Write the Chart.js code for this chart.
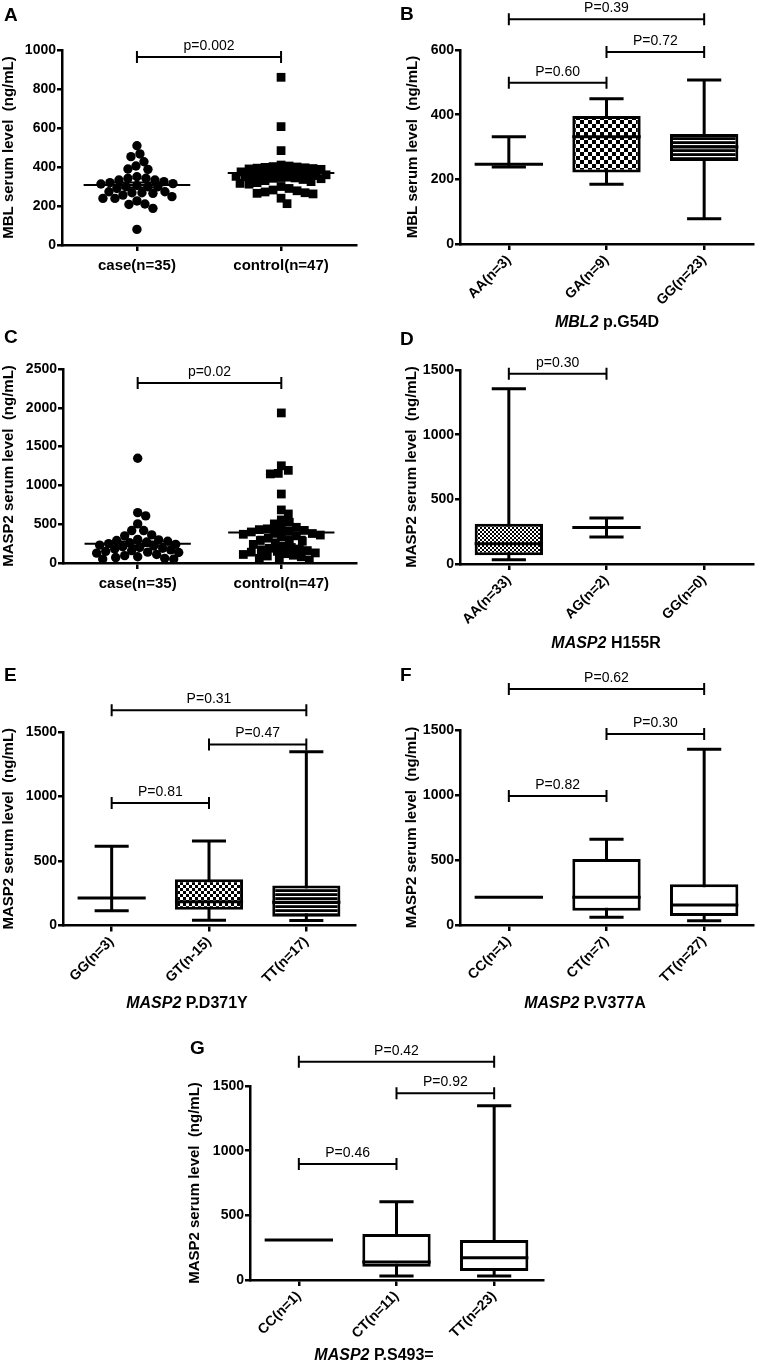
<!DOCTYPE html>
<html>
<head>
<meta charset="utf-8">
<script src="https://cdn.jsdelivr.net/npm/chart.js@4.4.1/dist/chart.umd.min.js"></script>
<style>
body { margin: 0; background: #fff; }
#page { position: relative; width: 758px; height: 1365px; overflow: hidden; font-family: "Liberation Sans", Arial, Helvetica, sans-serif; color: #000; }
canvas { position: absolute; }
.lbl { position: absolute; font-weight: bold; font-size: 19px; line-height: 19px; }
.xt { position: absolute; font-weight: bold; font-size: 16px; line-height: 16px; white-space: nowrap; transform: translate(-50%, -50%); }
</style>
</head>
<body>
<div id="page">
<canvas id="cA" width="375" height="290" style="left:0px;top:0px"></canvas>
<canvas id="cB" width="378" height="335" style="left:380px;top:0px"></canvas>
<canvas id="cC" width="375" height="300" style="left:0px;top:300px"></canvas>
<canvas id="cD" width="378" height="300" style="left:380px;top:335px"></canvas>
<canvas id="cE" width="375" height="340" style="left:0px;top:660px"></canvas>
<canvas id="cF" width="378" height="340" style="left:380px;top:660px"></canvas>
<canvas id="cG" width="380" height="325" style="left:180px;top:1040px"></canvas>

<div class="lbl" style="left:4px;top:5px">A</div>
<div class="lbl" style="left:400px;top:4px">B</div>
<div class="lbl" style="left:4px;top:327px">C</div>
<div class="lbl" style="left:400px;top:329px">D</div>
<div class="lbl" style="left:4px;top:665px">E</div>
<div class="lbl" style="left:400px;top:665px">F</div>
<div class="lbl" style="left:190px;top:1038px">G</div>

<div class="xt" style="left:607px;top:322px"><i>MBL2</i> p.G54D</div>
<div class="xt" style="left:606px;top:643px"><i>MASP2</i> H155R</div>
<div class="xt" style="left:187px;top:1003px"><i>MASP2</i> P.D371Y</div>
<div class="xt" style="left:585px;top:1003px"><i>MASP2</i> P.V377A</div>
<div class="xt" style="left:374px;top:1355px"><i>MASP2</i> P.S493=</div>
</div>

<script>
// ---- data ----
const groups = ['case(n=35)', 'control(n=47)'];

// A: MBL serum level (ng/mL)
const mblCase = [509, 467, 453, 427, 405, 388, 390, 350, 342, 333, 342, 333, 325, 320, 313,
  299, 299, 299, 305, 290, 273, 268, 265, 268, 273, 256, 239, 239, 248, 226, 208, 210, 188, 80, 315];
const mblControl = [860, 607, 484, 410, 405, 402, 400, 398, 396, 394, 392, 390, 388, 375, 372,
  370, 368, 366, 364, 362, 360, 358, 356, 354, 352, 350, 348, 346, 344, 342, 340, 336, 330, 325,
  320, 316, 312, 300, 290, 282, 278, 272, 268, 265, 262, 240, 212];
const mblMean = [308, 369];
const mblSem = [13, 15];

// C: MASP2 serum level (ng/mL)
const maspCase = [1350, 649, 607, 504, 418, 418, 362, 350, 305, 298, 290, 280, 270, 260, 250,
  240, 230, 220, 210, 200, 190, 180, 170, 160, 150, 140, 135, 127, 110, 95, 80, 70, 60, 50, 50];
const maspControl = [1934, 1253, 1194, 1155, 1148, 889, 684, 632, 555, 525, 504, 460, 450, 440,
  430, 420, 410, 400, 390, 380, 370, 360, 350, 340, 320, 300, 290, 280, 260, 240, 220, 200, 190,
  180, 170, 160, 150, 140, 130, 120, 110, 100, 90, 80, 60, 50, 40];
const maspMean = [247, 392];
const maspSem = [29, 54];

// B: MBL2 p.G54D
const labelsB = ['AA(n=3)', 'GA(n=9)', 'GG(n=23)'];
const minB = [238, 185, 78];
const q1B = [247, 221, 257];
const medB = [247, 332, 300];
const q3B = [247, 396, 340];
const maxB = [332, 449, 507];

// D: MASP2 H155R
const labelsD = ['AA(n=33)', 'AG(n=2)', 'GG(n=0)'];
const minD = [33, 208, null];
const q1D = [67, 283, null];
const medD = [157, 283, null];
const q3D = [311, 283, null];
const maxD = [1355, 355, null];

// E: MASP2 P.D371Y
const labelsE = ['GG(n=3)', 'GT(n-15)', 'TT(n=17)'];
const minE = [115, 41, 39];
const q1E = [213, 123, 67];
const medE = [213, 185, 180];
const q3E = [213, 359, 310];
const maxE = [615, 656, 1346];

// F: MASP2 P.V377A
const labelsF = ['CC(n=1)', 'CT(n=7)', 'TT(n=27)'];
const minF = [213, 59, 33];
const q1F = [213, 110, 69];
const medF = [213, 213, 154];
const q3F = [213, 508, 313];
const maxF = [213, 659, 1351];

// G: MASP2 P.S493=
const labelsG = ['CC(n=1)', 'CT(n=11)', 'TT(n=23)'];
const minG = [309, 31, 31];
const q1G = [309, 103, 70];
const medG = [309, 140, 172];
const q3G = [309, 355, 309];
const maxG = [309, 605, 1347];

// significance brackets: [from group, to group, level, text]
const bracketsA = [[0, 1, 964, 'p=0.002']];
const bracketsB = [[0, 2, 695, 'P=0.39'], [1, 2, 594, 'P=0.72'], [0, 1, 499, 'P=0.60']];
const bracketsC = [[0, 1, 2320, 'p=0.02']];
const bracketsD = [[0, 1, 1471, 'p=0.30']];
const bracketsE = [[0, 2, 1668, 'P=0.31'], [1, 2, 1403, 'P=0.47'], [0, 1, 950, 'P=0.81']];
const bracketsF = [[0, 2, 1815, 'P=0.62'], [1, 2, 1469, 'P=0.30'], [0, 1, 992, 'P=0.82']];
const bracketsG = [[0, 2, 1687, 'P=0.42'], [1, 2, 1443, 'P=0.92'], [0, 1, 896, 'P=0.46']];

// ---- drawing ----
const FONT = '"Liberation Sans", Arial, Helvetica, sans-serif';
Chart.defaults.font.family = FONT;
Chart.defaults.color = '#000';
Chart.defaults.animation = false;
Chart.defaults.plugins.legend.display = false;
Chart.defaults.plugins.tooltip.enabled = false;

const BAR_PCT = 0.7;
const extras = {};

function checker(size) {
    const c = document.createElement('canvas');
    c.width = c.height = size * 2;
    const g = c.getContext('2d');
    g.fillStyle = '#fff';
    g.fillRect(0, 0, size * 2, size * 2);
    g.fillStyle = '#000';
    g.fillRect(0, 0, size, size);
    g.fillRect(size, size, size, size);
    return g.createPattern(c, 'repeat');
}

function stripes(gap) {
    const c = document.createElement('canvas');
    c.width = 4;
    c.height = gap;
    const g = c.getContext('2d');
    g.fillStyle = '#000';
    g.fillRect(0, 0, 4, gap);
    g.fillStyle = '#fff';
    g.fillRect(0, 0, 4, 1.2);
    return g.createPattern(c, 'repeat');
}

// lay points side by side so they do not cover each other (too much)
function swarm(values, center, yPx, xPx, gap, maxHalf) {
    const order = values.map((v, i) => i).sort((a, b) => values[b] - values[a]);
    const placed = [];
    const out = [];
    order.forEach(i => {
        const py = values[i] * yPx;
        let best = 0, bestD = -1;
        for (let k = 0; k <= maxHalf * 2; k++) {
            const off = k === 0 ? 0 : (k % 2 ? (k + 1) / 2 : -k / 2);
            let dmin = Infinity;
            placed.forEach(p => {
                const d = Math.hypot(p[0] - off, p[1] - py);
                if (d < dmin) dmin = d;
            });
            if (dmin >= gap) { best = off; bestD = dmin; break; }
            if (dmin > bestD) { bestD = dmin; best = off; }
        }
        placed.push([best, py]);
        out.push({ x: center + best / xPx, y: values[i] });
    });
    return out;
}

const boxPlugin = {
    id: 'boxes',
    beforeDatasetsDraw(chart) {
        const ex = extras[chart.canvas.id];
        if (!ex || !ex.stats) return;
        const s = ex.stats;
        const { ctx, scales: { x, y } } = chart;
        const w = (x.getPixelForValue(1) - x.getPixelForValue(0)) * BAR_PCT;
        ctx.save();
        ctx.strokeStyle = '#000';
        ctx.lineWidth = 3;
        s.min.forEach((mn, i) => {
            if (mn == null) return;
            const cx = x.getPixelForValue(i);
            const yMin = y.getPixelForValue(mn), yMax = y.getPixelForValue(s.max[i]);
            ctx.beginPath();
            if (s.max[i] !== mn) {
                ctx.moveTo(cx, yMin); ctx.lineTo(cx, yMax);
                ctx.moveTo(cx - w / 4, yMin); ctx.lineTo(cx + w / 4, yMin);
                ctx.moveTo(cx - w / 4, yMax); ctx.lineTo(cx + w / 4, yMax);
            }
            ctx.stroke();
        });
        ctx.restore();
    },
    afterDatasetsDraw(chart) {
        const ex = extras[chart.canvas.id];
        if (!ex || !ex.stats) return;
        const s = ex.stats;
        const { ctx, scales: { x, y } } = chart;
        const w = (x.getPixelForValue(1) - x.getPixelForValue(0)) * BAR_PCT;
        ctx.save();
        ctx.strokeStyle = '#000';
        ctx.lineWidth = 3;
        s.med.forEach((m, i) => {
            if (m == null) return;
            const cx = x.getPixelForValue(i), ym = y.getPixelForValue(m);
            ctx.beginPath();
            ctx.moveTo(cx - w / 2, ym); ctx.lineTo(cx + w / 2, ym);
            ctx.stroke();
        });
        ctx.restore();
    }
};

const meanPlugin = {
    id: 'means',
    afterDatasetsDraw(chart) {
        const ex = extras[chart.canvas.id];
        if (!ex || !ex.mean) return;
        const { ctx, scales: { x, y } } = chart;
        const unit = x.getPixelForValue(1) - x.getPixelForValue(0);
        ctx.save();
        ctx.strokeStyle = '#000';
        ctx.lineWidth = 2;
        ex.mean.forEach((m, i) => {
            const cx = x.getPixelForValue(i), ym = y.getPixelForValue(m);
            const top = y.getPixelForValue(m + ex.sem[i]), bot = y.getPixelForValue(m - ex.sem[i]);
            ctx.beginPath();
            ctx.moveTo(cx - unit * 0.37, ym); ctx.lineTo(cx + unit * 0.37, ym);
            ctx.moveTo(cx, top); ctx.lineTo(cx, bot);
            ctx.moveTo(cx - unit * 0.17, top); ctx.lineTo(cx + unit * 0.17, top);
            ctx.moveTo(cx - unit * 0.17, bot); ctx.lineTo(cx + unit * 0.17, bot);
            ctx.stroke();
        });
        ctx.restore();
    }
};

const bracketPlugin = {
    id: 'brackets',
    afterDraw(chart) {
        const ex = extras[chart.canvas.id];
        if (!ex || !ex.brackets) return;
        const { ctx, scales: { x, y } } = chart;
        ctx.save();
        ctx.strokeStyle = '#000';
        ctx.fillStyle = '#000';
        ctx.lineWidth = 2;
        ctx.font = '14px ' + FONT;
        ctx.textAlign = 'center';
        ctx.textBaseline = 'bottom';
        ex.brackets.forEach(([a, b, v, t]) => {
            const x1 = x.getPixelForValue(a), x2 = x.getPixelForValue(b), yy = y.getPixelForValue(v);
            ctx.beginPath();
            ctx.moveTo(x1, yy); ctx.lineTo(x2, yy);
            ctx.moveTo(x1, yy - 6); ctx.lineTo(x1, yy + 6);
            ctx.moveTo(x2, yy - 6); ctx.lineTo(x2, yy + 6);
            ctx.stroke();
            ctx.fillText(t, (x1 + x2) / 2, yy - 4);
        });
        ctx.restore();
    }
};

Chart.register(boxPlugin, meanPlugin, bracketPlugin);

function yAxis(max, step, title, width) {
    return {
        min: 0,
        max: max,
        ticks: { stepSize: step, callback: v => String(v), color: '#000', font: { size: 14, weight: 'bold' }, padding: 1 },
        grid: { drawOnChartArea: false, color: '#000', lineWidth: 2.5, tickLength: 5 },
        border: { color: '#000', width: 2.5 },
        title: { display: true, text: title, color: '#000', font: { size: 15, weight: 'bold' }, padding: 0 },
        afterFit: s => { s.width = width; }
    };
}

function xCategory(height) {
    return {
        grid: { offset: false, drawOnChartArea: false, color: '#000', lineWidth: 2.5, tickLength: 6 },
        border: { color: '#000', width: 2.5 },
        ticks: { color: '#000', font: { size: 14, weight: 'bold' }, minRotation: 45, maxRotation: 45, padding: 2, autoSkip: false },
        afterFit: s => { s.height = height; }
    };
}

function xGroups(height) {
    return {
        type: 'linear',
        min: -0.52,
        max: 1.52,
        afterBuildTicks: s => { s.ticks = [{ value: 0 }, { value: 1 }]; },
        grid: { drawOnChartArea: false, color: '#000', lineWidth: 2.5, tickLength: 6 },
        border: { color: '#000', width: 2.5 },
        ticks: { callback: v => groups[v], color: '#000', font: { size: 15, weight: 'bold' }, padding: 6, maxRotation: 0 },
        afterFit: s => { s.height = height; }
    };
}

function dotChart(id, caseVals, controlVals, mean, sem, brackets, yMax, yStep, yTitle, spread, lay) {
    const xPx = (lay.w - lay.pad.left - lay.pad.right - lay.yw) / 2.04;
    const yPx = (lay.h - lay.pad.top - lay.pad.bottom - lay.xh) / yMax;
    extras[id] = { mean: mean, sem: sem, brackets: brackets };
    new Chart(document.getElementById(id), {
        type: 'scatter',
        data: {
            datasets: [
                { data: swarm(caseVals, 0, yPx, xPx, 8.5, spread[0]), pointStyle: 'circle', pointRadius: 4.7,
                  backgroundColor: '#000', borderWidth: 0 },
                { data: swarm(controlVals, 1, yPx, xPx, 8, spread[1]), pointStyle: 'rect', pointRadius: 6.2,
                  backgroundColor: '#000', borderWidth: 0 }
            ]
        },
        options: {
            responsive: false,
            layout: { autoPadding: false, padding: lay.pad },
            scales: { x: xGroups(lay.xh), y: yAxis(yMax, yStep, yTitle, lay.yw) }
        }
    });
}

function boxChart(id, labels, st, fills, brackets, yMax, yStep, yTitle, lay) {
    extras[id] = { stats: st, brackets: brackets };
    new Chart(document.getElementById(id), {
        type: 'bar',
        data: {
            labels: labels,
            datasets: [{
                data: st.q1.map((v, i) => (v == null || v === st.q3[i]) ? null : [v, st.q3[i]]),
                backgroundColor: fills,
                borderColor: '#000',
                borderWidth: 3,
                borderSkipped: false,
                barPercentage: BAR_PCT,
                categoryPercentage: 1
            }]
        },
        options: {
            responsive: false,
            layout: { autoPadding: false, padding: lay.pad },
            scales: { x: xCategory(lay.xh), y: yAxis(yMax, yStep, yTitle, lay.yw) }
        }
    });
}

document.addEventListener('DOMContentLoaded', function() {
    const mblTitle = 'MBL serum level  (ng/mL)';
    const maspTitle = 'MASP2 serum level  (ng/mL)';

    dotChart('cA', mblCase, mblControl, mblMean, mblSem, bracketsA, 1000, 200, mblTitle, [36, 45],
        { w: 375, h: 290, yw: 62, xh: 30, pad: { left: 0, top: 50, right: 19, bottom: 15 } });

    dotChart('cC', maspCase, maspControl, maspMean, maspSem, bracketsC, 2500, 500, maspTitle, [41, 40],
        { w: 375, h: 300, yw: 63, xh: 30, pad: { left: 0, top: 69, right: 19, bottom: 7 } });

    boxChart('cB', labelsB, { min: minB, q1: q1B, med: medB, q3: q3B, max: maxB },
        ['#fff', checker(4), stripes(4.7)], bracketsB, 600, 200, mblTitle,
        { yw: 56, xh: 70, pad: { left: 24, top: 50, right: 5, bottom: 21 } });

    boxChart('cD', labelsD, { min: minD, q1: q1D, med: medD, q3: q3D, max: maxD },
        [checker(2), '#fff', '#fff'], bracketsD, 1500, 500, maspTitle,
        { yw: 57, xh: 65, pad: { left: 23, top: 35, right: 5, bottom: 6 } });

    boxChart('cE', labelsE, { min: minE, q1: q1E, med: medE, q3: q3E, max: maxE },
        ['#fff', checker(3), stripes(4)], bracketsE, 1500, 500, maspTitle,
        { yw: 63, xh: 65, pad: { left: 0, top: 72, right: 20, bottom: 9.5 } });

    boxChart('cF', labelsF, { min: minF, q1: q1F, med: medF, q3: q3F, max: maxF },
        ['#fff', '#fff', '#fff'], bracketsF, 1500, 500, maspTitle,
        { yw: 57, xh: 65, pad: { left: 23, top: 70, right: 5, bottom: 10 } });

    boxChart('cG', labelsG, { min: minG, q1: q1G, med: medG, q3: q3G, max: maxG },
        ['#fff', '#fff', '#fff'], bracketsG, 1500, 500, maspTitle,
        { yw: 64, xh: 70, pad: { left: 6, top: 46, right: 17, bottom: 15 } });
});
</script>
</body>
</html>
